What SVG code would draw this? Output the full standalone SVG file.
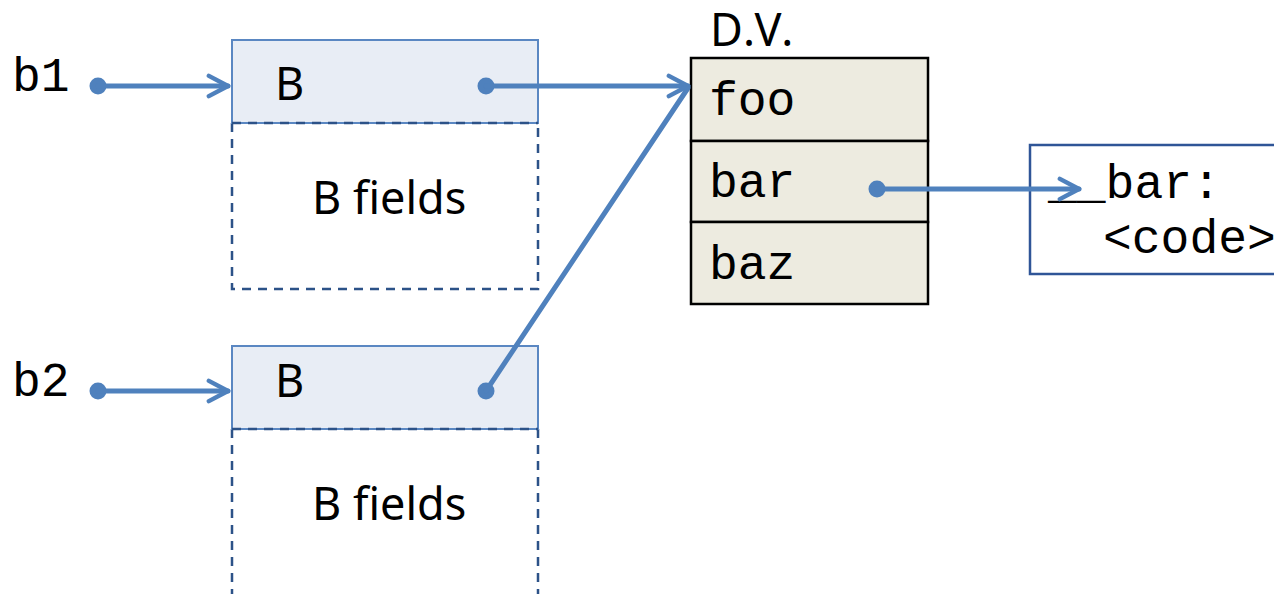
<svg xmlns="http://www.w3.org/2000/svg" width="1274" height="594" viewBox="0 0 1274 594">
  <style>
    .mono { font-family: "Liberation Mono", "Courier New", monospace; font-size: 48px; fill: #000; }
    .sans { font-family: "Noto Sans", "Open Sans", sans-serif; font-size: 45px; fill: #000; }
    .hdr { fill: #E8EDF5; stroke: #5A87C2; stroke-width: 2; }
    .body { fill: none; stroke: #2C5288; stroke-width: 2.5; stroke-dasharray: 9 7; }
    .cell { fill: #EDEBE0; stroke: #000; stroke-width: 2.5; }
    .code { fill: #fff; stroke: #2F5597; stroke-width: 2.5; }
    .wire { fill: none; stroke: #4F81BD; stroke-width: 5; stroke-linecap: round; }
    .dot { fill: #4F81BD; }
  </style>
  <defs>
    <marker id="head" viewBox="0 0 12 12" refX="10" refY="6" markerWidth="5.4" markerHeight="5.4" markerUnits="strokeWidth" orient="auto">
      <path d="M1.5,1.5 L10,6 L1.5,10.5" fill="none" stroke="#4F81BD" stroke-width="2" stroke-linecap="round" stroke-linejoin="round"/>
    </marker>
  </defs>

  <!-- variable labels -->
  <g id="b1">
    <text class="mono" x="12" y="91">b1</text>
  </g>
  <g id="b2">
    <text class="mono" x="12" y="396">b2</text>
  </g>

  <!-- first B object -->
  <g id="obj1">
    <path class="body" d="M232,123 V289 H538 V123"/>
    <rect class="hdr" x="232" y="40" width="306" height="83"/>
    <line x1="232" y1="123" x2="538" y2="123" stroke="#2C5288" stroke-width="2.5" stroke-dasharray="9 7"/>
    <text class="sans" x="275" y="100">B</text>
    <text class="sans" x="312" y="214">B fields</text>
  </g>

  <!-- second B object -->
  <g id="obj2">
    <path class="body" d="M232,429 V600 M538,429 V600"/>
    <rect class="hdr" x="232" y="346" width="306" height="83"/>
    <line x1="232" y1="429" x2="538" y2="429" stroke="#2C5288" stroke-width="2.5" stroke-dasharray="9 7"/>
    <text class="sans" x="275" y="397">B</text>
    <text class="sans" x="312" y="520">B fields</text>
  </g>

  <!-- dispatch vector -->
  <g id="dv">
    <text class="sans" x="710" y="46" letter-spacing="2">D.V.</text>
    <rect class="cell" x="691" y="58" width="237" height="83"/>
    <rect class="cell" x="691" y="141" width="237" height="81"/>
    <rect class="cell" x="691" y="222" width="237" height="82"/>
    <text class="mono" x="709" y="115">foo</text>
    <text class="mono" x="709" y="197">bar</text>
    <text class="mono" x="709" y="279">baz</text>
  </g>

  <!-- method body -->
  <g id="method">
    <rect class="code" x="1030" y="145" width="260" height="129"/>
    <text class="mono" x="1048" y="198">__bar:</text>
    <text class="mono" x="1103" y="253">&lt;code&gt;</text>
  </g>

  <!-- pointers -->
  <g id="connectors">
    <circle class="dot" cx="98" cy="86" r="8.5"/>
    <line class="wire" x1="98" y1="86" x2="228" y2="86" marker-end="url(#head)"/>
    <circle class="dot" cx="98" cy="391" r="8.5"/>
    <line class="wire" x1="98" y1="391" x2="228" y2="391" marker-end="url(#head)"/>
    <circle class="dot" cx="486" cy="86" r="8.5"/>
    <line class="wire" x1="486" y1="86" x2="688" y2="86" marker-end="url(#head)"/>
    <circle class="dot" cx="486" cy="391" r="8.5"/>
    <line class="wire" x1="486" y1="391" x2="688" y2="88"/>
    <circle class="dot" cx="877" cy="189" r="8.5"/>
    <line class="wire" x1="877" y1="189" x2="1079" y2="189" marker-end="url(#head)"/>
  </g>
</svg>
